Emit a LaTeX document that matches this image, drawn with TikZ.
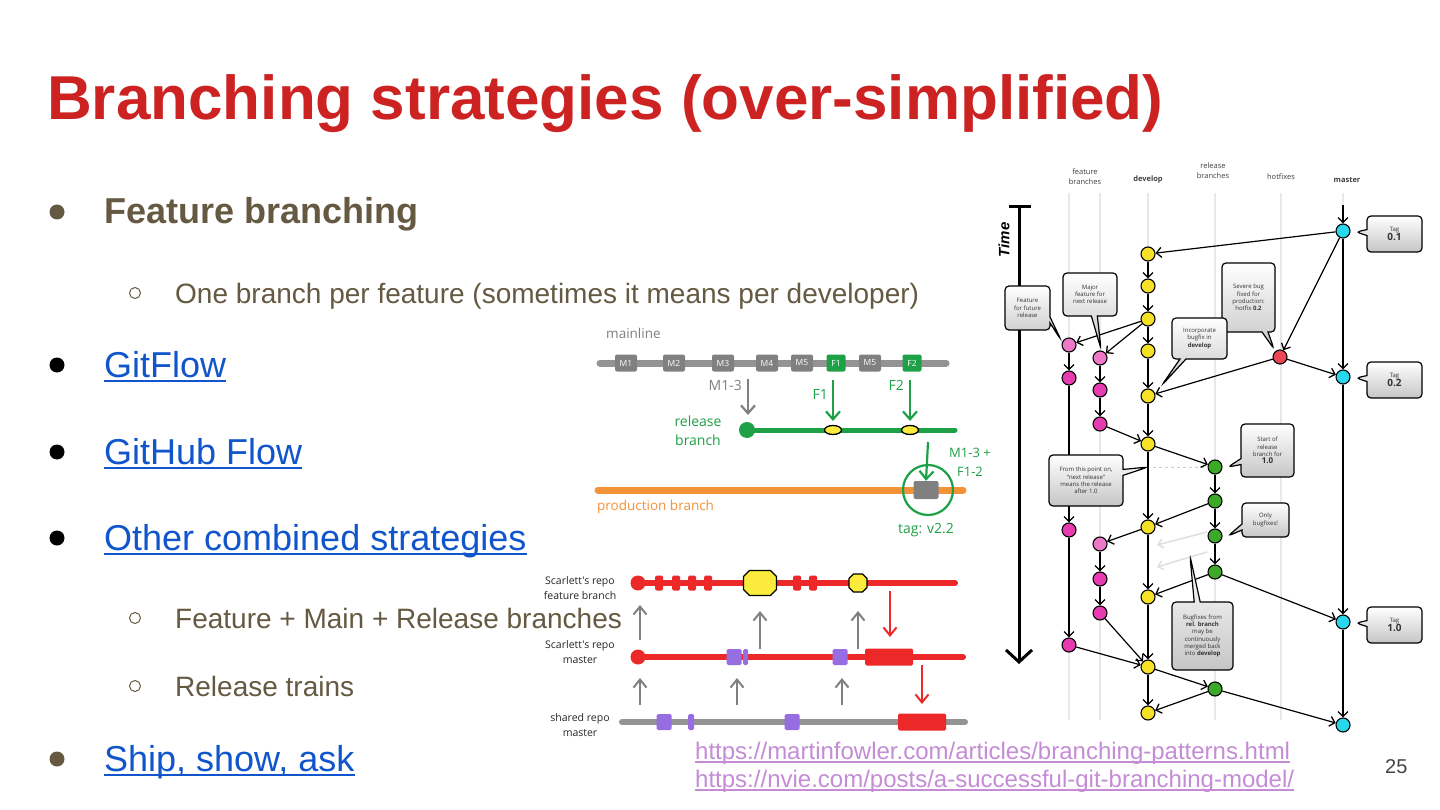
\documentclass[tikz,border=0pt]{standalone}
\usepackage{fontspec}
\setmainfont{Liberation Sans}
\newfontfamily\osans{Open Sans}
\usetikzlibrary{arrows.meta,shapes.geometric,shapes.callouts,calc}
\definecolor{titlered}{RGB}{204,34,34}
\definecolor{brn}{RGB}{101,89,66}
\definecolor{lnkblue}{RGB}{17,85,204}
\definecolor{lilac}{RGB}{197,140,214}
\definecolor{mgray}{RGB}{128,128,128}
\definecolor{mgreen}{RGB}{30,160,70}
\definecolor{porange}{RGB}{243,146,55}
\definecolor{sred}{RGB}{236,40,40}
\definecolor{spurple}{RGB}{150,110,225}
\definecolor{syellow}{RGB}{250,235,60}
\definecolor{gyellow}{RGB}{245,225,40}
\definecolor{gpink}{RGB}{230,60,175}
\definecolor{gpinkl}{RGB}{238,120,200}
\definecolor{ggreen}{RGB}{60,170,40}
\definecolor{gcyan}{RGB}{40,215,235}
\definecolor{gred}{RGB}{235,70,85}
\definecolor{numgray}{RGB}{68,68,68}
\begin{document}
\begin{tikzpicture}[x=1pt,y=-1pt,
  txt/.style={inner sep=0pt, anchor=base west},
  bigtxt/.style={txt, font=\fontsize{36}{40}\selectfont},
  subtxt/.style={txt, text=brn, font=\fontsize{28}{32}\selectfont},
  dotb/.style={circle, inner sep=0pt, minimum size=15pt},
  subb/.style={circle, draw=brn, line width=1pt, inner sep=0pt, minimum size=11pt},
  ulink/.style={lnkblue, line width=2.5pt},
  mbox/.style={rectangle, rounded corners=2pt, fill=mgray, minimum width=22pt, minimum height=17pt, inner sep=0pt, text=white, font=\osans\fontsize{8.5}{9}\selectfont},
  fbox/.style={mbox, fill=mgreen, minimum width=19pt},
  garrow/.style={mgray, line width=2.2pt, -{Straight Barb[length=8pt,width=14pt]}},
  grarrow/.style={mgreen, line width=2.2pt, -{Straight Barb[length=8pt,width=14pt]}},
  rarrow/.style={sred, line width=2pt, -{Straight Barb[length=8pt,width=13pt]}},
  sarrow/.style={mgray, line width=2pt, -{Straight Barb[length=8pt,width=13pt]}},
  yell/.style={ellipse, draw=black, line width=1.3pt, fill=syellow, minimum width=17pt, minimum height=9pt, inner sep=0pt},
  slabel/.style={align=center, font=\osans\fontsize{10.5}{14.5}\selectfont, text=black!85},
  srect/.style={rectangle, rounded corners=1.5pt, inner sep=0pt},
  gnode/.style={circle, draw=black, line width=1.1pt, minimum size=14pt, inner sep=0pt},
  gedge/.style={draw=black, line width=1.2pt, -{Straight Barb[length=5pt,width=10pt,line width=1.3pt]}},
  faintarr/.style={draw=gray!25, line width=1.5pt, -{Straight Barb[length=5pt,width=9pt]}},
  lane/.style={draw=gray!18, line width=2.5pt},
  collab/.style={align=center, font=\osans\fontsize{7.5}{10}\selectfont, text=black!75},
  callbox/.style={rectangle callout, draw=black, line width=1.2pt, rounded corners=4pt,
    top color=white, bottom color=gray!45, callout pointer width=6pt,
    align=center, inner sep=1pt, text=black!80, font=\osans\fontsize{6}{7.2}\selectfont}
]
\useasboundingbox (0,0) rectangle (1440,810);
\fill[white] (0,0) rectangle (1440,810);

% ---------- title ----------
\node[txt, text=titlered, font=\fontsize{62}{70}\selectfont\bfseries] (title) at (47,120) {Branching strategies (over-simplified)};

% ---------- bullets ----------
\node[dotb, fill=brn] (bu1) at (57,212) {};
\node[bigtxt, text=brn, font=\fontsize{36}{40}\selectfont\bfseries] (t1) at (104,224) {Feature branching};
\node[subb] (sb1) at (135,293) {};
\node[subtxt] (t2) at (175,303) {One branch per feature (sometimes it means per developer)};

\node[dotb, fill=black] (bu2) at (57,365) {};
\node[bigtxt, text=lnkblue] (l1) at (104,377) {GitFlow};
\node[dotb, fill=black] (bu3) at (57,452) {};
\node[bigtxt, text=lnkblue] (l2) at (104,464) {GitHub Flow};
\node[dotb, fill=black] (bu4) at (57,538) {};
\node[bigtxt, text=lnkblue] (l3) at (104,550) {Other combined strategies};
\node[subb] (sb2) at (135,618) {};
\node[subtxt] (t3) at (175,628) {Feature + Main + Release branches};
\node[subb] (sb3) at (135,686) {};
\node[subtxt] (t4) at (175,696) {Release trains};
\node[dotb, fill=brn] (bu5) at (57,759) {};
\node[bigtxt, text=lnkblue] (l4) at (104,771) {Ship, show, ask};
\foreach \l in {l1,l2,l3,l4}
  \draw[ulink] ([yshift=-4pt]\l.base west) -- ([yshift=-4pt]\l.base east);

% ---------- reference links ----------
\node[txt, text=lilac, font=\fontsize{24}{28}\selectfont] (u1) at (695,759) {https://martinfowler.com/articles/branching-patterns.html};
\node[txt, text=lilac, font=\fontsize{24}{28}\selectfont] (u2) at (695,787) {https://nvie.com/posts/a-successful-git-branching-model/};
\foreach \l in {u1,u2}
  \draw[lilac, line width=1.5pt] ([yshift=-3pt]\l.base west) -- ([yshift=-3pt]\l.base east);
\node[txt, text=numgray, font=\fontsize{20}{24}\selectfont] (pg) at (1385,773) {25};

% ---------- mainline / release / production diagram ----------
\node[txt, text=mgray, font=\osans\fontsize{13.5}{16}\selectfont] (mllab) at (606,338) {mainline};
\coordinate (mlA) at (600,363); \coordinate (mlB) at (946,363);
\draw[mgray!85, line width=7pt, line cap=round] (mlA) -- (mlB);
\node[mbox] (mM1) at (626,363) {M1};
\node[mbox] (mM2) at (674,363) {M2};
\node[mbox] (mM3) at (723,363) {M3};
\node[mbox] (mM4) at (767,363) {M4};
\node[mbox] (mM5) at (802,363) {M5};
\node[fbox] (mF1) at (836,363) {F1};
\node[mbox] (mM6) at (870,363) {M5};
\node[fbox] (mF2) at (912,363) {F2};

\coordinate (rbA) at (747,430); \coordinate (rbB) at (955,430);
\draw[mgreen, line width=5pt, line cap=round] (rbA) -- (rbB);
\node[circle, fill=mgreen, minimum size=16pt, inner sep=0pt] (rbdot) at (rbA) {};
\node[yell] (ye1) at (833,430) {};
\node[yell] (ye2) at (910,430) {};
\node[align=center, text=mgreen, font=\osans\fontsize{14}{19}\selectfont] (rblab) at (698,431) {release\\branch};

\coordinate (a1s) at (748,379); \coordinate (a1e) at (748,415);
\draw[garrow] (a1s) -- (a1e);
\node[anchor=east, inner sep=0pt, text=mgray, font=\osans\fontsize{14}{16}\selectfont] (m13) at (742,385) {M1-3};
\coordinate (a2s) at (833,380); \coordinate (a2e) at (833,421);
\draw[grarrow] (a2s) -- (a2e);
\node[anchor=east, inner sep=0pt, text=mgreen, font=\osans\fontsize{14}{16}\selectfont] (f1l) at (828,395) {F1};
\coordinate (a3s) at (910,380); \coordinate (a3e) at (910,421);
\draw[grarrow] (a3s) -- (a3e);
\node[anchor=east, inner sep=0pt, text=mgreen, font=\osans\fontsize{14}{16}\selectfont] (f2l) at (904,385) {F2};

\coordinate (pbA) at (598,490); \coordinate (pbB) at (963,490);
\draw[porange, line width=7pt, line cap=round] (pbA) -- (pbB);
\node[rectangle, rounded corners=2pt, fill=mgray, minimum width=25pt, minimum height=18pt, inner sep=0pt] (pbox) at (926,490) {};
\node[circle, draw=mgreen, line width=2.2pt, minimum size=50pt, inner sep=0pt] (tagc) at (928,490) {};
\coordinate (a4s) at (928,442);
\draw[grarrow] (a4s) -- (pbox.north);
\node[align=center, text=mgreen, font=\osans\fontsize{13}{19}\selectfont] (m13f) at (970,462) {M1-3 +\\F1-2};
\node[txt, text=porange, font=\osans\fontsize{13.5}{16}\selectfont] (pblab) at (597,510) {production branch};
\node[text=mgreen, font=\osans\fontsize{14}{16}\selectfont] (taglab) at (926,530) {tag: v2.2};

% ---------- Scarlett's repo diagram ----------
\node[slabel] (sl1) at (580,588) {Scarlett's repo\\feature branch};
\node[slabel] (sl2) at (580,652) {Scarlett's repo\\master};
\node[slabel] (sl3) at (580,725) {shared repo\\master};

\coordinate (sfA) at (638,583); \coordinate (sfB) at (955,583);
\draw[sred, line width=6pt, line cap=round] (sfA) -- (sfB);
\node[circle, fill=sred, minimum size=15pt, inner sep=0pt] (sfdot) at (sfA) {};
\foreach \x in {659,676,692,708,797,813}
  \node[srect, fill=sred, minimum width=8pt, minimum height=15pt] at (\x,583) {};
\begin{scope}[shift={(760,583)}]
  \draw[fill=syellow, line width=1.3pt] (-16.5,-6.5) -- (-10.5,-12.5) -- (10.5,-12.5) -- (16.5,-6.5) -- (16.5,6.5) -- (10.5,12.5) -- (-10.5,12.5) -- (-16.5,6.5) -- cycle;
\end{scope}
\begin{scope}[shift={(858,583)}]
  \draw[fill=syellow, line width=1.3pt] (-9,-4.5) -- (-4.5,-9) -- (4.5,-9) -- (9,-4.5) -- (9,4.5) -- (4.5,9) -- (-4.5,9) -- (-9,4.5) -- cycle;
\end{scope}

\coordinate (smA) at (638,657); \coordinate (smB) at (963,657);
\draw[sred, line width=6pt, line cap=round] (smA) -- (smB);
\node[circle, fill=sred, minimum size=15pt, inner sep=0pt] (smdot) at (smA) {};
\node[srect, fill=spurple, minimum width=15pt, minimum height=16pt] (sp1) at (734,657) {};
\node[srect, fill=spurple, minimum width=5pt, minimum height=16pt] (sp2) at (745.5,657) {};
\node[srect, fill=spurple, minimum width=15pt, minimum height=16pt] (sp3) at (840,657) {};
\node[srect, fill=sred, minimum width=48pt, minimum height=17pt] (sr1) at (889,657) {};

\coordinate (shA) at (622,722); \coordinate (shB) at (965,722);
\draw[mgray!85, line width=6pt, line cap=round] (shA) -- (shB);
\node[srect, fill=spurple, minimum width=15pt, minimum height=16pt] (sp4) at (664,722) {};
\node[srect, fill=spurple, minimum width=6pt, minimum height=16pt] (sp5) at (691,722) {};
\node[srect, fill=spurple, minimum width=15pt, minimum height=16pt] (sp6) at (792,722) {};
\node[srect, fill=sred, minimum width=48pt, minimum height=17pt] (sr2) at (922,722) {};

\foreach \x/\ya/\yb in {640/640/605, 760/649/611, 858/649/611, 640/705/678, 737/705/678, 842/705/678}
  \draw[sarrow] (\x,\ya) coordinate (s) -- (\x,\yb) coordinate (e);
\coordinate (ra1) at (890,591); \coordinate (ra2) at (890,637);
\draw[rarrow] (ra1) -- (ra2);
\coordinate (ra3) at (922,665); \coordinate (ra4) at (922,704);
\draw[rarrow] (ra3) -- (ra4);

% ---------- GitFlow diagram ----------
\foreach \x in {1069,1100,1148,1215,1281,1343}
  \draw[lane] (\x,193) -- (\x,720);
\node[collab] (c1) at (1085,177) {feature\\branches};
\node[collab, font=\osans\bfseries\fontsize{7.5}{10}\selectfont] (c2) at (1148,180) {develop};
\node[collab] (c3) at (1213,171) {release\\branches};
\node[collab] (c4) at (1281,177) {hotfixes};
\node[collab, font=\osans\bfseries\fontsize{7.5}{10}\selectfont] (c5) at (1347,180) {master};

% time axis
\coordinate (tA) at (1019,207); \coordinate (tB) at (1019,664);
\draw[black, line width=3pt] (1009,207) -- (1031,207);
\draw[black, line width=3pt, -{Straight Barb[length=12pt,width=26pt,line width=3pt]}] (tA) -- (tB);
\node[rotate=90, font=\bfseries\itshape\fontsize{15}{18}\selectfont] (tlab) at (1004,240) {Time};

% commits
\foreach \n/\y in {m1/231,m2/377,m3/622,m4/725}
  \node[gnode, fill=gcyan] (\n) at (1343,\y) {};
\foreach \n/\y in {d1/254,d2/286,d3/319,d4/351,d5/396,d6/444,d7/527,d8/597,d9/667,d10/713}
  \node[gnode, fill=gyellow] (\n) at (1148,\y) {};
\node[gnode, fill=gred] (h1) at (1280,357) {};
\node[gnode, fill=gpinkl] (fa1) at (1069,345) {};
\foreach \n/\y in {fa2/378,fa3/530,fa4/645}
  \node[gnode, fill=gpink] (\n) at (1069,\y) {};
\node[gnode, fill=gpinkl] (fb1) at (1100,358) {};
\node[gnode, fill=gpinkl] (fb4) at (1100,544) {};
\foreach \n/\y in {fb2/390,fb3/424,fb5/579,fb6/613}
  \node[gnode, fill=gpink] (\n) at (1100,\y) {};
\foreach \n/\y in {r1/467,r2/501,r3/536,r4/572,r5/689}
  \node[gnode, fill=ggreen] (\n) at (1215,\y) {};

\coordinate (mtop) at (1343,205);
\draw[gedge] (mtop) -- (m1);
\coordinate (dsh) at (1153,467);
\draw[gray!40, dashed, line width=1pt] (dsh) -- (r1);
\foreach \a/\b in {m1/d1, m1/h1, m1/m2, d1/d2, d2/d3, d3/d4, d4/d5, d3/fa1, d3/fb1,
  h1/m2, h1/d5, fa1/fa2, fa2/fa3, fa3/fa4, fb1/fb2, fb2/fb3, fb3/d6, d5/d6, d6/r1,
  r1/r2, r2/r3, r3/r4, r2/d7, d6/d7, d7/fb4, fb4/fb5, fb5/fb6, r4/d8, r4/m3, d7/d8,
  d8/d9, fb6/d9, fa4/d9, d9/r5, d9/d10, r5/d10, r5/m4, m2/m3, m3/m4}
  \draw[gedge] (\a) -- (\b);
\coordinate (fx1) at (1207,532); \coordinate (fy1) at (1157,545);
\coordinate (fx2) at (1207,552); \coordinate (fy2) at (1157,567);
\draw[faintarr] (fx1) -- (fy1);
\draw[faintarr] (fx2) -- (fy2);

% callouts
\node[callbox, minimum width=55pt, minimum height=36pt, callout absolute pointer={(1356,232)}] (tag01) at (1394.5,234) {Tag\\[-1pt]{\bfseries\fontsize{10}{11}\selectfont 0.1}};
\node[callbox, minimum width=55pt, minimum height=36pt, callout absolute pointer={(1356,378)}] (tag02) at (1394.5,380) {Tag\\[-1pt]{\bfseries\fontsize{10}{11}\selectfont 0.2}};
\node[callbox, minimum width=55pt, minimum height=36pt, callout absolute pointer={(1356,623)}] (tag10) at (1394.5,625) {Tag\\[-1pt]{\bfseries\fontsize{10}{11}\selectfont 1.0}};
\node[callbox, minimum width=45pt, minimum height=44pt, callout absolute pointer={(1061,340)}] (cfut) at (1027.5,308) {Feature\\for future\\release};
\node[callbox, minimum width=54pt, minimum height=43pt, callout absolute pointer={(1101,349)}] (cmaj) at (1090,294.5) {Major\\feature for\\next release};
\node[callbox, minimum width=53pt, minimum height=69pt, callout absolute pointer={(1274,349)}] (csev) at (1248.5,297.5) {Severe bug\\fixed for\\production:\\hotfix \textbf{0.2}};
\node[callbox, minimum width=55pt, minimum height=41pt, callout absolute pointer={(1162,385)}] (cinc) at (1199.5,338.5) {Incorporate\\bugfix in\\\textbf{develop}};
\node[callbox, minimum width=53pt, minimum height=53pt, callout absolute pointer={(1228,467)}] (cstart) at (1267.5,450.5) {Start of\\release\\branch for\\{\bfseries\fontsize{8}{9}\selectfont 1.0}};
\node[callbox, minimum width=74pt, minimum height=51pt, callout absolute pointer={(1148,467)}] (cfrom) at (1086,480.5) {From this point on,\\“next release”\\means the release\\after 1.0};
\node[callbox, minimum width=47pt, minimum height=34pt, callout absolute pointer={(1228,536)}] (conly) at (1265.5,520) {Only\\bugfixes!};
\node[callbox, minimum width=61pt, minimum height=68pt, callout absolute pointer={(1190,556)}] (cbug) at (1202.5,636) {Bugfixes from\\\textbf{rel. branch}\\may be\\continuously\\merged back\\into \textbf{develop}};
\end{tikzpicture}
\end{document}
